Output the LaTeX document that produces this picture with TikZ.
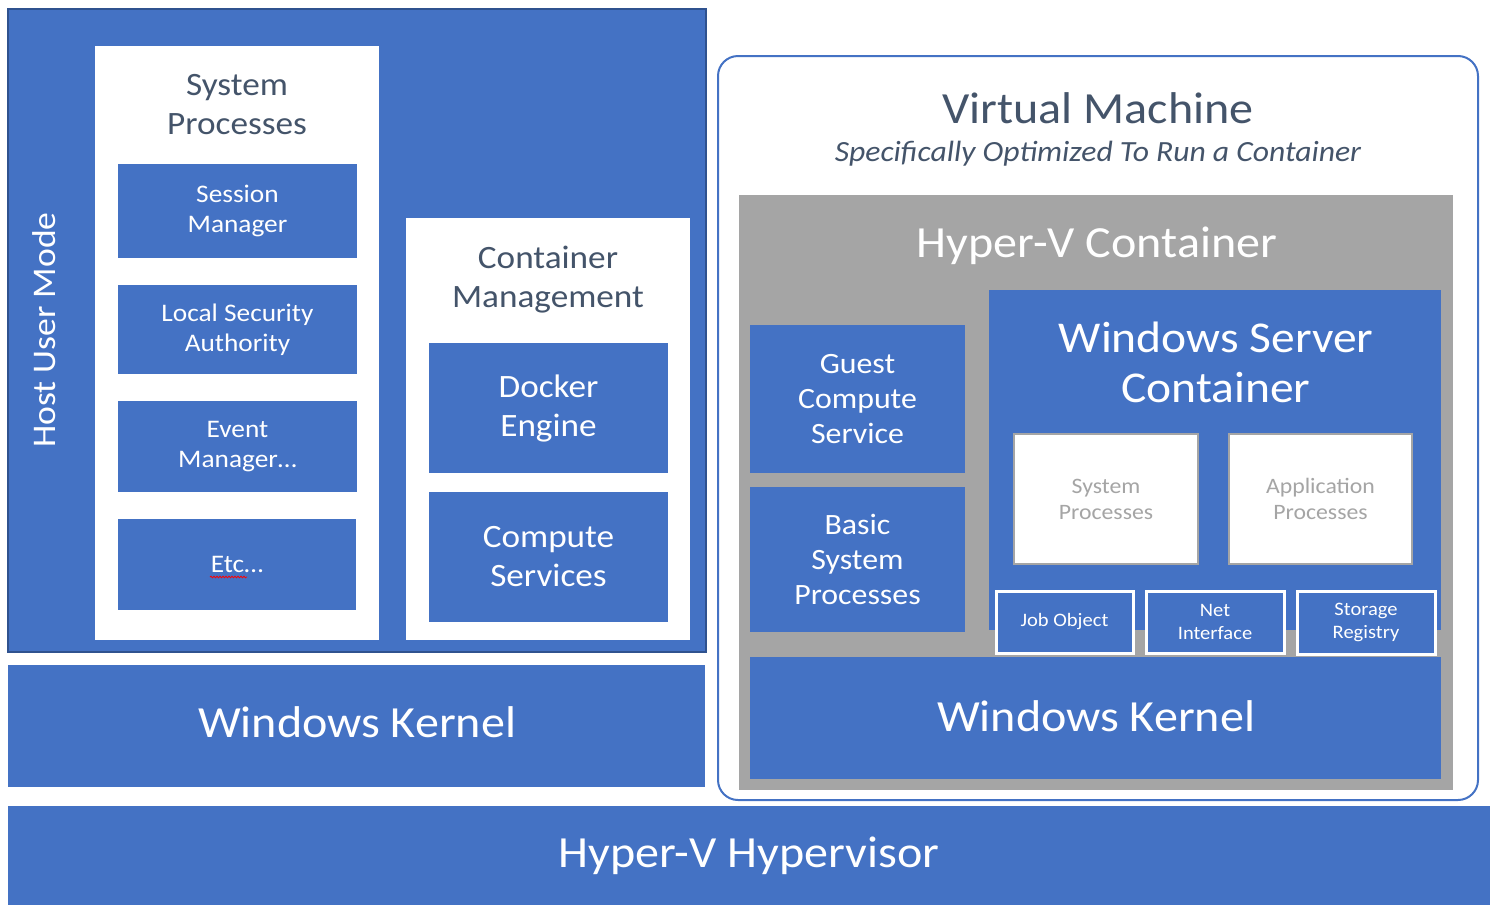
\documentclass[tikz,border=0pt]{standalone}
\usepackage{fontspec}
\setmainfont[FakeStretch=1.08]{Carlito}
\usetikzlibrary{decorations.pathmorphing}
\definecolor{msblue}{HTML}{4472C4}
\definecolor{msdark}{HTML}{2F528F}
\definecolor{msgray}{HTML}{A5A5A5}
\definecolor{mstext}{HTML}{44546A}
\newcommand{\fs}[2]{\fontsize{#1}{#2}\selectfont}
% \bx{style}{name}{x1}{y1}{x2}{y2}{text}
\newcommand{\bx}[7]{\node[#1, anchor=north west, inner sep=0pt, outer sep=0pt, align=center,
  minimum width={#5-#3}, minimum height={#6-#4}] (#2) at (#3,#4) {#7};}
\tikzset{
  bluebox/.style={fill=msblue, text=white},
  whitebox/.style={fill=white},
  graybox/.style={fill=msgray},
  procbox/.style={fill=white, draw=msgray, line width=2pt, text=msgray},
  smallbox/.style={fill=msblue, draw=white, line width=3pt, text=white},
  title/.style={align=center, text=mstext},
}
\begin{document}
\begin{tikzpicture}[x=1pt,y=-1pt]
\useasboundingbox (0,0) rectangle (1496,911);
% host
\bx{fill=msblue, draw=msdark, line width=2pt}{host}{8}{9}{706}{652}{}
\node[rotate=90, text=white, font=\fs{33}{39}] (hum) at (44,330) {Host User Mode};
\bx{whitebox}{sysp}{95}{46}{379}{640}{}
\node[title, font=\fs{32.6}{39}] (sysptitle) at (237,105) {System\\Processes};
\bx{bluebox, font=\fs{25.3}{30}}{sm}{118}{164}{357}{258}{Session\\Manager}
\bx{bluebox, font=\fs{25.3}{30}}{lsa}{118}{285}{357}{374}{Local Security\\Authority}
\bx{bluebox, font=\fs{25.3}{30}}{em}{118}{401}{357}{492}{Event\\Manager…}
\bx{bluebox, font=\fs{25.3}{30}}{etc}{118}{519}{356}{610}{Etc…}
\draw[red, line width=0.8pt, decorate, decoration={snake, amplitude=0.8pt, segment length=3pt}] (210,577) -- (247,577);
\bx{whitebox}{cm}{406}{218}{690}{640}{}
\node[title, font=\fs{32.6}{39}] (cmtitle) at (548,280) {Container\\Management};
\bx{bluebox, font=\fs{32.6}{39}}{de}{429}{343}{668}{473}{Docker\\Engine}
\bx{bluebox, font=\fs{32.6}{39}}{cs}{429}{492}{668}{622}{Compute\\Services}
\node[bluebox, anchor=north west, inner sep=0pt, minimum width=697, minimum height=122] (wk1) at (8,665) {};
\node[text=white, font=\fs{44.5}{52}] (wk1t) at (357,722) {Windows Kernel};
\node[bluebox, anchor=north west, inner sep=0pt, minimum width=1482, minimum height=99] (hv) at (8,806) {};
\node[text=white, font=\fs{44.5}{52}] (hvt) at (749,856) {Hyper-V Hypervisor};
% VM
\draw[msblue, line width=2pt, rounded corners=20pt, fill=white] (718,56) rectangle (1478,800);
\node[title, font=\fs{44.5}{52}] (vmt) at (1098,108) {Virtual Machine};
\node[title, font=\fs{29.3}{34}\itshape] (vms) at (1098,154) {Specifically Optimized To Run a Container};
\bx{graybox}{hvc}{739}{195}{1453}{790}{}
\node[text=white, font=\fs{44.5}{52}] (hvct) at (1097,246) {Hyper-V Container};
\bx{bluebox}{wsc}{989}{290}{1441}{630}{}
\node[text=white, font=\fs{44}{50}, align=center] (wsct) at (1216,362) {Windows Server\\Container};
\bx{procbox, font=\fs{22}{26}}{sp2}{1014}{434}{1198}{564}{System\\Processes}
\bx{procbox, font=\fs{22}{26}}{ap}{1229}{434}{1412}{564}{Application\\Processes}
\bx{smallbox, font=\fs{19}{23}}{jo}{996}{591}{1133}{653}{Job Object}
\bx{smallbox, font=\fs{19}{23}}{ni}{1146}{591}{1284}{653}{Net\\Interface}
\bx{smallbox, font=\fs{19}{23}}{sr}{1297}{591}{1435}{654}{Storage\\Registry}
\bx{bluebox, font=\fs{29.5}{35}}{gcs}{750}{325}{965}{473}{Guest\\Compute\\Service}
\bx{bluebox, font=\fs{29.5}{35}}{bsp}{750}{487}{965}{632}{Basic\\System\\Processes}
\node[bluebox, anchor=north west, inner sep=0pt, minimum width=691, minimum height=122] (wk2) at (750,657) {};
\node[text=white, font=\fs{44.5}{52}] (wk2t) at (1096,716) {Windows Kernel};
\end{tikzpicture}
\end{document}
